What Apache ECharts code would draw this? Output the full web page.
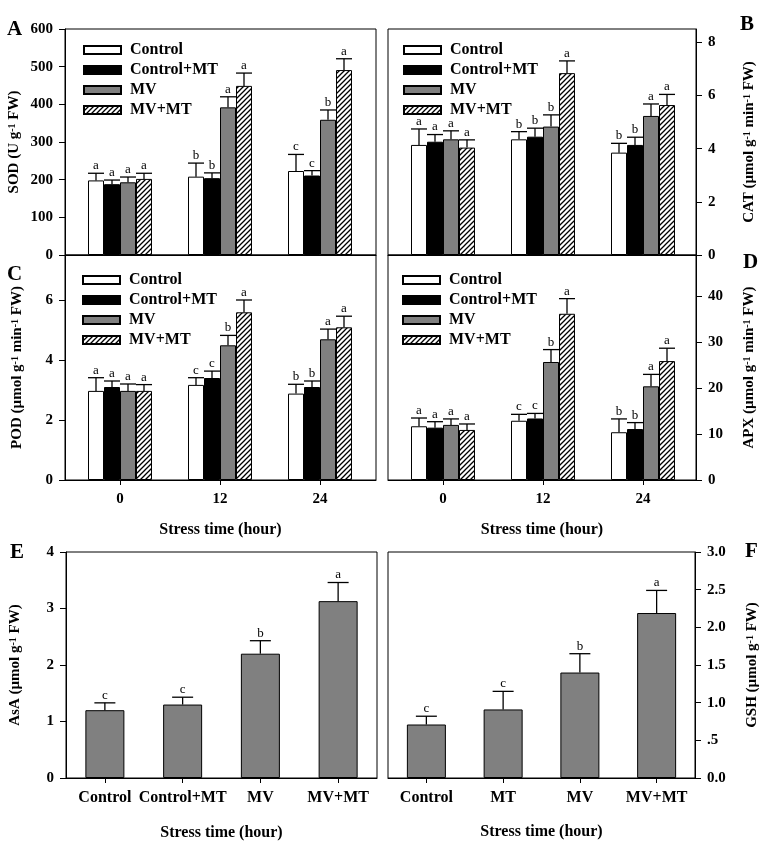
<!DOCTYPE html>
<html><head><meta charset="utf-8">
<script src="https://cdn.jsdelivr.net/npm/echarts@6/dist/echarts.min.js"></script>
<style>html,body{margin:0;padding:0;background:#fff}#c{width:765px;height:849px}</style>
</head><body><div id="c"></div><script>
// ---------- data ----------
const hours = ['0', '12', '24'];
const groupNames = ['Control', 'Control+MT', 'MV', 'MV+MT'];

const sodMean = [[198, 208, 223], [188, 204, 211], [193, 392, 359], [202, 449, 491]];
const sodSE   = [[19, 36, 44], [11, 14, 13], [14, 28, 26], [15, 34, 30]];
const sodLetters = [['a','b','c'], ['a','b','c'], ['a','a','b'], ['a','a','a']];

const catMean = [[4.14, 4.35, 3.85], [4.26, 4.45, 4.14], [4.35, 4.83, 5.23], [4.04, 6.84, 5.64]];
const catSE   = [[0.60, 0.29, 0.35], [0.27, 0.32, 0.29], [0.32, 0.44, 0.45], [0.29, 0.46, 0.40]];
const catLetters = [['a','b','b'], ['a','b','b'], ['a','b','a'], ['a','a','a']];

const podMean = [[2.97, 3.17, 2.88], [3.10, 3.40, 3.10], [2.97, 4.49, 4.69], [2.97, 5.59, 5.09]];
const podSE   = [[0.44, 0.24, 0.31], [0.20, 0.23, 0.20], [0.23, 0.33, 0.34], [0.21, 0.41, 0.37]];
const podLetters = [['a','c','b'], ['a','c','b'], ['a','b','a'], ['a','a','a']];

const apxMean = [[11.7, 12.9, 10.4], [11.4, 13.4, 11.1], [12.0, 25.7, 20.4], [10.9, 36.2, 25.9]];
const apxSE   = [[1.8, 1.4, 2.9], [1.3, 1.1, 1.4], [1.3, 2.7, 2.6], [1.3, 3.3, 2.8]];
const apxLetters = [['a','c','b'], ['a','c','b'], ['a','b','a'], ['a','a','a']];

const asaCats = ['Control', 'Control+MT', 'MV', 'MV+MT'];
const asaMean = [1.20, 1.30, 2.20, 3.13];
const asaSE   = [0.13, 0.13, 0.23, 0.33];
const asaLetters = ['c', 'c', 'b', 'a'];

const gshCats = ['Control', 'MT', 'MV', 'MV+MT'];
const gshMean = [0.71, 0.91, 1.40, 2.19];
const gshSE   = [0.11, 0.24, 0.25, 0.30];
const gshLetters = ['c', 'c', 'b', 'a'];

// ---------- styling ----------
const FONT = '"Liberation Serif", "Times New Roman", serif';
function hatch() {
  const c = document.createElement('canvas');
  c.width = c.height = 5;
  const g = c.getContext('2d');
  g.fillStyle = '#fff'; g.fillRect(0, 0, 5, 5);
  g.strokeStyle = '#000'; g.lineWidth = 1.3;
  g.beginPath();
  g.moveTo(0, 5); g.lineTo(5, 0);
  g.moveTo(-1, 1); g.lineTo(1, -1);
  g.moveTo(4, 6); g.lineTo(6, 4);
  g.stroke();
  return c;
}
const fills = ['#ffffff', '#000000', '#808080', { image: hatch(), repeat: 'repeat' }];
const BW = 16;

const grids = [
  { left: 65, top: 29, width: 311, height: 226 },
  { left: 388, top: 29, width: 308, height: 226 },
  { left: 65, top: 255, width: 311, height: 225 },
  { left: 388, top: 255, width: 308, height: 225 },
  { left: 66, top: 552, width: 311, height: 226 },
  { left: 388, top: 552, width: 307, height: 226 }
].map(g => Object.assign({ show: true, borderColor: '#000', borderWidth: 1, backgroundColor: 'transparent' }, g));

const supRich = { s: { fontSize: 10, fontWeight: 'bold', fontFamily: FONT, verticalAlign: 'top', lineHeight: 10, color: '#000' } };
const nameStyle = { fontFamily: FONT, fontWeight: 'bold', fontSize: 15, color: '#000', rich: supRich };
const lblStyle = { fontFamily: FONT, fontWeight: 'bold', fontSize: 15, color: '#000' };

function yAxis(idx, right, max, ticks, name, gap, fmt) {
  const a = {
    gridIndex: idx, type: 'value', min: 0, max: max, position: right ? 'right' : 'left',
    name: name, nameLocation: 'middle', nameGap: gap, nameRotate: 90, nameTextStyle: nameStyle,
    axisLine: { show: true, onZero: false, lineStyle: { color: '#000', width: 1 } },
    axisTick: { show: true, inside: false, length: 6, lineStyle: { color: '#000' }, customValues: ticks },
    axisLabel: Object.assign({ margin: 12, customValues: ticks }, lblStyle),
    splitLine: { show: false }
  };
  if (fmt) a.axisLabel.formatter = fmt;
  return a;
}
// time-course panels: value axis with group positions 0,1,2 and side padding
function xTime(idx, showLabels, xmin, xmax) {
  return {
    gridIndex: idx, type: 'value', min: xmin, max: xmax,
    axisLine: { show: true, onZero: false, lineStyle: { color: '#000', width: 1 } },
    axisTick: { show: showLabels, inside: false, length: 5, lineStyle: { color: '#000' }, customValues: [0, 1, 2] },
    axisLabel: Object.assign({ show: showLabels, margin: 12, customValues: [0, 1, 2], formatter: v => hours[Math.round(v)] }, lblStyle),
    splitLine: { show: false },
    name: showLabels ? 'Stress time (hour)' : '', nameLocation: 'middle', nameGap: 42,
    nameTextStyle: { fontFamily: FONT, fontWeight: 'bold', fontSize: 16, color: '#000' }
  };
}
function xCat(idx, cats, gap) {
  return {
    gridIndex: idx, type: 'category', data: cats,
    axisLine: { show: true, onZero: false, lineStyle: { color: '#000', width: 1 } },
    axisTick: { show: true, alignWithLabel: true, inside: false, length: 5, lineStyle: { color: '#000' } },
    axisLabel: Object.assign({ margin: 12, interval: 0 }, lblStyle, { fontSize: 16 }),
    name: 'Stress time (hour)', nameLocation: 'middle', nameGap: gap,
    nameTextStyle: { fontFamily: FONT, fontWeight: 'bold', fontSize: 16, color: '#000' }
  };
}

function errRender(offset, capW, letters) {
  return function (params, api) {
    const j = api.value(0), m = api.value(1), t = api.value(2);
    const p0 = api.coord([j, m]);
    const p1 = api.coord([j, t]);
    const cx = p0[0] + offset;
    return {
      type: 'group', children: [
        { type: 'line', shape: { x1: cx, y1: p0[1], x2: cx, y2: p1[1] }, style: { stroke: '#000', lineWidth: 1.3 } },
        { type: 'line', shape: { x1: cx - capW / 2, y1: p1[1], x2: cx + capW / 2, y2: p1[1] }, style: { stroke: '#000', lineWidth: 1.3 } },
        { type: 'text', x: cx, y: p1[1] - 1, style: { text: letters[params.dataIndex], fontFamily: FONT, fontSize: 13, fill: '#000', align: 'center', verticalAlign: 'bottom' } }
      ]
    };
  };
}

const series = [];
const panels = [
  [sodMean, sodSE, sodLetters],
  [catMean, catSE, catLetters],
  [podMean, podSE, podLetters],
  [apxMean, apxSE, apxLetters]
];
panels.forEach((pd, p) => {
  const [mean, se, let_] = pd;
  for (let i = 0; i < 4; i++) {
    series.push({
      name: groupNames[i], type: 'bar', xAxisIndex: p, yAxisIndex: p,
      data: mean[i].map((m, j) => [j, m]),
      barWidth: BW, barGap: '0%',
      itemStyle: { color: fills[i], borderColor: '#000', borderWidth: 1 }
    });
  }
  for (let i = 0; i < 4; i++) {
    series.push({
      type: 'custom', xAxisIndex: p, yAxisIndex: p, silent: true, z: 5,
      renderItem: errRender((i - 1.5) * BW, BW, let_[i]),
      data: mean[i].map((m, j) => [j, m, m + se[i][j]])
    });
  }
});
[[asaMean, asaSE, asaLetters, 'AsA'], [gshMean, gshSE, gshLetters, 'GSH']].forEach((pd, k) => {
  const p = 4 + k;
  const [mean, se, let_, nm] = pd;
  series.push({
    name: nm, type: 'bar', xAxisIndex: p, yAxisIndex: p, data: mean, barWidth: 39,
    itemStyle: { color: '#808080', borderColor: '#000', borderWidth: 1 }
  });
  series.push({
    type: 'custom', xAxisIndex: p, yAxisIndex: p, silent: true, z: 5,
    renderItem: errRender(0, 21, let_),
    data: mean.map((m, j) => [j, m, m + se[j]])
  });
});

function legend(left, top) {
  return {
    data: groupNames, orient: 'vertical', left: left, top: top, padding: 0,
    icon: 'rect', itemWidth: 37, itemHeight: 8, itemGap: 4, selectedMode: false,
    textStyle: { fontFamily: FONT, fontWeight: 'bold', fontSize: 16, lineHeight: 16, color: '#000', padding: [0, 0, 0, 4] }
  };
}

function panelLabel(t, x, y) {
  return { type: 'text', x: x, y: y, style: { text: t, fontFamily: FONT, fontWeight: 'bold', fontSize: 21, fill: '#000', verticalAlign: 'middle' } };
}

const option = {
  animation: false,
  backgroundColor: '#fff',
  grid: grids,
  xAxis: [
    xTime(0, false, -0.55, 2.56),
    xTime(1, false, -0.55, 2.53),
    xTime(2, true, -0.55, 2.56),
    xTime(3, true, -0.55, 2.53),
    xCat(4, asaCats, 47),
    xCat(5, gshCats, 46)
  ],
  yAxis: [
    yAxis(0, false, 600, [0, 100, 200, 300, 400, 500, 600], 'SOD (U g{s|-1} FW)', 43),
    yAxis(1, true, 8.5, [0, 2, 4, 6, 8], 'CAT (µmol g{s|-1} min{s|-1} FW)', 46),
    yAxis(2, false, 7.5, [0, 2, 4, 6], 'POD (µmol g{s|-1} min{s|-1} FW)', 40),
    yAxis(3, true, 49, [0, 10, 20, 30, 40], 'APX (µmol g{s|-1} min{s|-1} FW)', 46),
    yAxis(4, false, 4, [0, 1, 2, 3, 4], 'AsA (µmol g{s|-1} FW)', 43),
    yAxis(5, true, 3, [0, 0.5, 1, 1.5, 2, 2.5, 3], 'GSH (µmol g{s|-1} FW)', 50,
      v => (v === 0.5 ? '.5' : v.toFixed(1)))
  ],
  legend: [legend(83, 42), legend(403, 42), legend(82, 272), legend(402, 272)],
  graphic: [
    panelLabel('A', 7, 30), panelLabel('B', 740, 25),
    panelLabel('C', 7, 275), panelLabel('D', 743, 263),
    panelLabel('E', 10, 553), panelLabel('F', 745, 552)
  ],
  series: series
};
echarts.init(document.getElementById('c'), null, { renderer: 'canvas' }).setOption(option);
</script></body></html>
